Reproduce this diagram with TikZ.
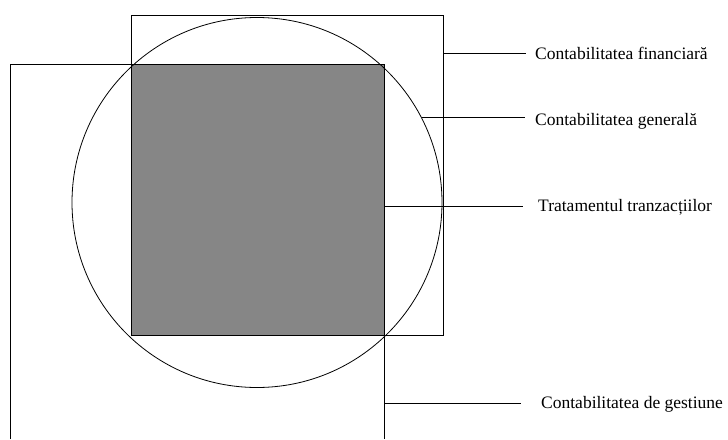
\documentclass[tikz,border=0pt]{standalone}
\usepackage{fontspec}
\setmainfont{Liberation Serif}
\begin{document}
\begin{tikzpicture}[x=1pt,y=-1pt,
  shapeline/.style={draw=black,line width=0.8pt},
  leader/.style={draw=black,line width=0.8pt},
  lbl/.style={anchor=west,inner sep=0pt,font=\fontsize{17.5}{20}\selectfont,text=black}]
\useasboundingbox[fill=white] (0,0) rectangle (728,439);
% gray square (transactions)
\fill[fill=gray!95!white,draw=black!80,line width=1pt] (131,64) rectangle (384,335);
% top rectangle (financial accounting)
\draw[shapeline] (131,15) rectangle (443,335);
% left rectangle (management accounting), open at bottom
\draw[shapeline] (10,439) -- (10,64) -- (384,64) -- (384,439);
% circle (general accounting)
\draw[shapeline] (257,202.5) circle[radius=185];
% anchor points
\coordinate (pfin) at (443,53);
\coordinate (pgen) at (421.5,117);
\coordinate (ptr) at (384,206);
\coordinate (pges) at (384,403);
% labels
\node[lbl] (lfin) at (535,53) {Contabilitatea financiară};
\node[lbl] (lgen) at (535,121) {Contabilitatea generală};
\node[lbl] (ltr) at (538,207) {Tratamentul tranzacțiilor};
\node[lbl] (lges) at (541,404) {Contabilitatea de gestiune};
% leaders
\coordinate (efin) at (526,53);
\coordinate (egen) at (525,117);
\coordinate (etr) at (523,206);
\coordinate (eges) at (521,403);
\draw[leader] (pfin) -- (efin);
\draw[leader] (pgen) -- (egen);
\draw[leader] (ptr) -- (etr);
\draw[leader] (pges) -- (eges);
\end{tikzpicture}
\end{document}
